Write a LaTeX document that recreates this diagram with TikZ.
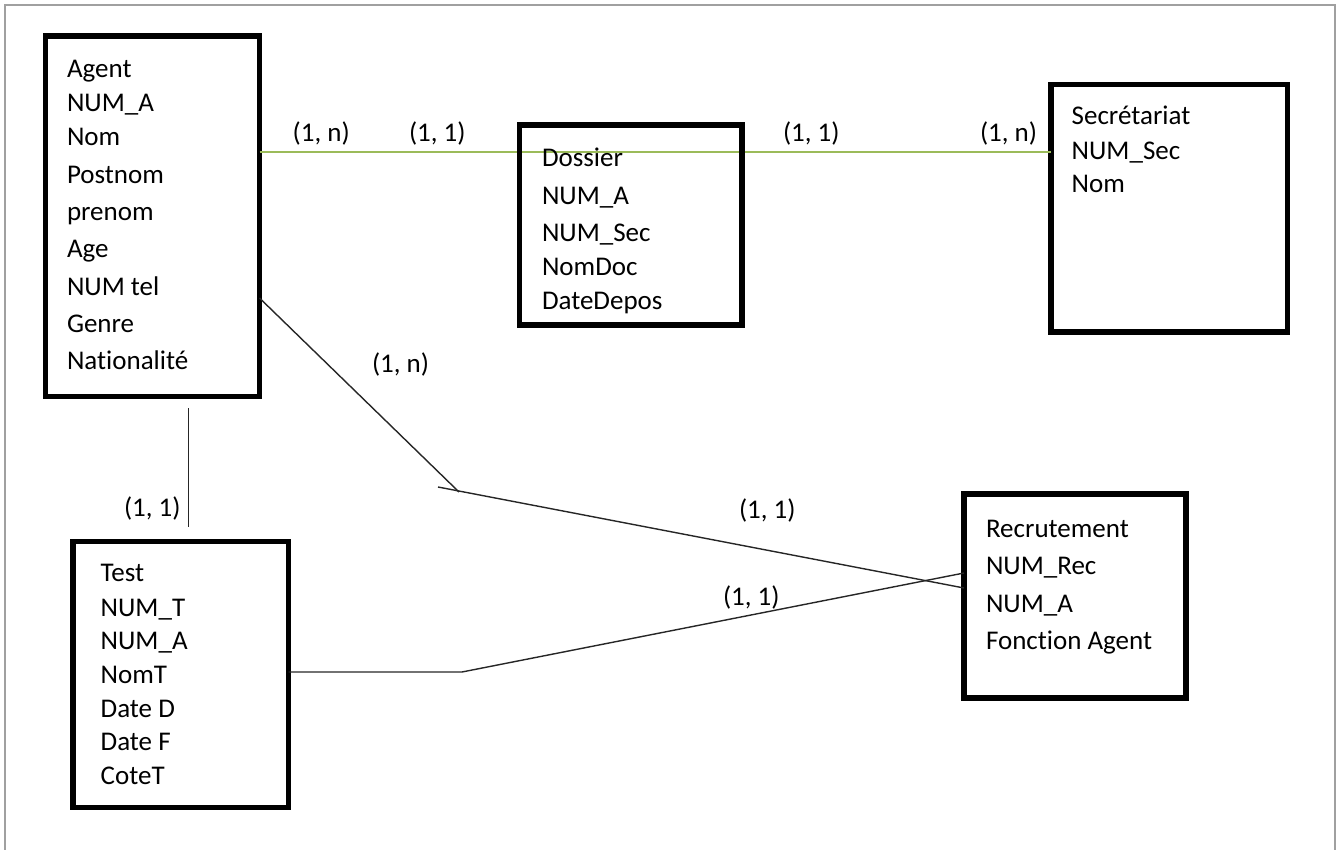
\documentclass[tikz,border=0pt]{standalone}
\usepackage{fontspec}
\setmainfont{Carlito}[Ligatures={NoCommon,NoContextual}]
\definecolor{lgreen}{RGB}{155,187,89}
\definecolor{framegray}{RGB}{160,160,160}
\begin{document}
\begin{tikzpicture}[x=1pt,y=-1pt,
  every node/.style={font=\fontsize{27}{32}\selectfont},
  txt/.style={anchor=base west, inner sep=0pt, outer sep=0pt},
  entity/.style={draw=black, line width=5.5pt, inner sep=0pt, outer sep=0pt, rectangle},
  link/.style={draw=black!85, line width=1.4pt},
  greenlink/.style={draw=lgreen, line width=1.4pt}
]
\useasboundingbox (0,0) rectangle (1336,850);
% frame
\draw[framegray, line width=2pt] (5,850) -- (5,5) -- (1335,5) -- (1335,850);

% entity boxes (nodes)
\node[entity, minimum width=214pt, minimum height=360.5pt] (agent) at (152.5,216.25) {};
\node[entity, minimum width=236.5pt, minimum height=247.5pt] (sec) at (1169.25,208.25) {};
\node[entity, minimum width=222pt, minimum height=204pt] (rec) at (1075,596) {};
\node[entity, minimum width=215.5pt, minimum height=266.2pt] (test) at (180.75,674.4) {};

% green connector Agent -- (through Dossier) -- Secretariat
\draw[greenlink] (agent.east |- 0,152) -- (sec.west |- 0,152);

\node[entity, minimum width=222.5pt, minimum height=200pt] (dossier) at (630.75,225) {};

% attributes
\foreach \t/\y [count=\i] in {Agent/77.3, NUM\_A/111.7, Nom/145.7, Postnom/183.3, prenom/220.7, Age/257.3, NUM tel/296, Genre/332.3, Nationalité/370}
  \node[txt] (agent-t\i) at (67,\y) {\t};
\foreach \t/\y [count=\i] in {Dossier/166.7, NUM\_A/205, NUM\_Sec/241.7, NomDoc/275.5, DateDepos/309}
  \node[txt] (dossier-t\i) at (542,\y) {\t};
\foreach \t/\y [count=\i] in {Secrétariat/125, NUM\_Sec/159.3, Nom/192.7}
  \node[txt] (sec-t\i) at (1071.7,\y) {\t};
\foreach \t/\y [count=\i] in {Recrutement/537, NUM\_Rec/574, NUM\_A/612, Fonction Agent/649}
  \node[txt] (rec-t\i) at (986,\y) {\t};
\foreach \t/\y [count=\i] in {Test/581.7, NUM\_T/616, NUM\_A/649.3, NomT/683.3, Date D/717.3, Date F/750.7, CoteT/784}
  \node[txt] (test-t\i) at (100.7,\y) {\t};

% other connectors
\coordinate (k1) at (459,492);
\coordinate (k1s) at (438,487);
\coordinate (k2) at (462,672);
\coordinate (v1) at (188.3,408);
\coordinate (v2) at (188.3,527);
\draw[link] (agent.east |- 0,298) -- (k1);
\draw[link] (k1s) -- (rec.west |- 0,588);
\draw[link] (test.east |- 0,672) -- (k2) -- (rec.west |- 0,573);
\draw[link] (v1) -- (v2);

% cardinalities
\node[txt] (c1) at (292.7,141.5) {(1, n)};
\node[txt] (c2) at (409,141.5) {(1, 1)};
\node[txt] (c3) at (783,141.5) {(1, 1)};
\node[txt] (c4) at (980,141.5) {(1, n)};
\node[txt] (c5) at (372,372) {(1, n)};
\node[txt] (c6) at (739,518) {(1, 1)};
\node[txt] (c7) at (723,605) {(1, 1)};
\node[txt] (c8) at (124,516.7) {(1, 1)};
\end{tikzpicture}
\end{document}
